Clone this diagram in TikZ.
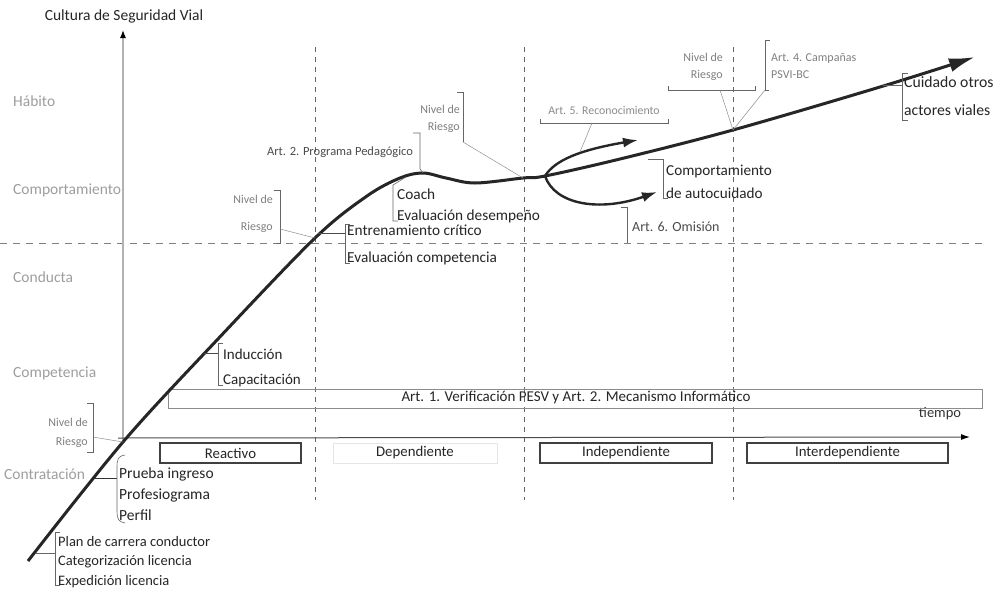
\documentclass[tikz,border=0pt]{standalone}
\usepackage{fontspec}
\setmainfont{Carlito}
\usetikzlibrary{arrows.meta}
\begin{document}
\begin{tikzpicture}[x=1pt,y=-1pt,
  every node/.style={inner sep=0pt},
  lbl/.style={text=black!85, anchor=west, align=left},
  axlbl/.style={font=\fontsize{15.5}{17}\selectfont, text=black!38, anchor=west},
  tiny/.style={text=black!50, align=right},
  brk/.style={draw=black!60, line width=0.6pt},
  lead/.style={draw=black!45, line width=0.5pt},
  phasebox/.style={draw=black!75, line width=1.5pt, minimum height=20pt, font=\fontsize{14.8}{16}\selectfont, text=black!85},
  vdash/.style={draw=black!60, line width=0.7pt, dash pattern=on 5pt off 5pt},
  hdash/.style={draw=black!50, line width=0.7pt, dash pattern=on 7pt off 6pt},
  mainline/.style={line width=3pt, draw=black!85},
]
\useasboundingbox (0,0) rectangle (995,592);
\fill[white] (0,0) rectangle (995,592);

% grid lines
\coordinate (hd1) at (0,243); \coordinate (hd2) at (985,243);
\draw[hdash] (hd1) -- (hd2);
\foreach \x/\n in {315/a,524/b,733/c}{
  \coordinate (vt\n) at (\x,47); \coordinate (vb\n) at (\x,500);
  \draw[vdash] (vt\n) -- (vb\n);
}

% axes
\coordinate (org) at (123,441);
\coordinate (ytop) at (123,30);
\coordinate (xstart) at (118,438);
\coordinate (xend) at (970,437);
\draw[black!30, line width=1.2pt, -{Latex[length=8pt,width=6pt,black]}] (org) -- (ytop);
\draw[black!70, line width=1pt, -{Latex[length=9pt,width=6pt,black]}] (xstart) -- (xend);
\node[font=\fontsize{15.5}{17}\selectfont, text=black!85] (ytitle) at (124,16) {Cultura de Seguridad Vial};
\node[font=\fontsize{14.5}{16}\selectfont, text=black!80] (tiempo) at (940,414) {tiempo};

% y-axis level labels
\node[axlbl] (habito) at (13,101) {Hábito};
\node[axlbl] (comp) at (13,190) {Comportamiento};
\node[axlbl] (conducta) at (13,277) {Conducta};
\node[axlbl] (competencia) at (13,373) {Competencia};
\node[axlbl] (contrat) at (4,474) {Contratación};

% Art. 1 band
\node[draw=black!45, line width=0.6pt, minimum width=814pt, minimum height=19pt] (art1box) at (575,398.5) {};
\node[font=\fontsize{15}{17}\selectfont, text=black!85] (art1) at (576,398) {Art. 1. Verificación PESV y Art. 2. Mecanismo Informático};

% phase boxes
\node[phasebox, minimum width=141pt] (reactivo) at (230.5,453) {Reactivo};
\node[phasebox, draw=black!10, line width=0.8pt, minimum width=164pt] (dependiente) at (415,453) {Dependiente};
\node[phasebox, minimum width=172pt] (independiente) at (626,453) {Independiente};
\node[phasebox, minimum width=201pt] (interdep) at (847.5,453) {Interdependiente};

% main curve
\coordinate (c0) at (28,561);
\coordinate (c1) at (123,442);
\coordinate (c2) at (217,340);
\coordinate (c3) at (315,238);
\coordinate (c4) at (367,196);
\coordinate (c5) at (400,178);
\coordinate (c6) at (423,173);
\coordinate (c7) at (446,178);
\coordinate (c8) at (475,183);
\coordinate (c9) at (523,178);
\coordinate (br) at (545,176);
\coordinate (c11) at (620,159);
\coordinate (c12) at (733,130);
\coordinate (c13) at (880,87);
\coordinate (tip) at (975,57);
\draw[mainline, -{Latex[length=26pt,width=14pt]}] plot[smooth, tension=0.55] coordinates {(c0) (c1) (c2) (c3) (c4) (c5) (c6) (c7) (c8) (c9) (br) (c11) (c12) (c13) (tip)};

% branches
\coordinate (uptip) at (638,140);
\coordinate (lowtip) at (657,192);
\draw[line width=2.4pt, black!85, -{Latex[length=15pt,width=10pt]}] (br) .. controls (555,160) and (580,150) .. (uptip);
\draw[line width=2.4pt, black!85, -{Latex[length=15pt,width=10pt]}] (br) .. controls (555,205) and (600,212) .. (lowtip);

% Nivel de Riesgo (bottom left)
\node[tiny, font=\fontsize{12}{19}\selectfont, anchor=east] (nr1) at (88,432.5) {Nivel de\\Riesgo};
\coordinate (nr1a) at (87,403); \coordinate (nr1b) at (93,403); \coordinate (nr1c) at (93,452); \coordinate (nr1d) at (87,452);
\draw[brk] (nr1a) -- (nr1b) -- (nr1c) -- (nr1d);
\coordinate (nr1l) at (93,437);
\draw[lead] (nr1l) -- (c1);

% Contratacion / Prueba ingreso
\coordinate (ct1) at (94,478); \coordinate (ct2) at (117,478);
\draw[black!80, line width=0.8pt] (ct1) -- (ct2);
\draw[brk] (125,455) .. controls (118,456) and (117,460) .. (117,466) -- (117,512) .. controls (117,519) and (119,522) .. (125,523);
\node[lbl, font=\fontsize{15.5}{21}\selectfont] (prueba) at (119,494) {Prueba ingreso\\Profesiograma\\Perfil};

% Plan de carrera
\coordinate (pc1) at (36,553); \coordinate (pc2) at (55,553);
\draw[brk] (pc1) -- (pc2);
\draw[brk] (60,532) -- (55,532) -- (55,585) -- (60,585);
\node[lbl, font=\fontsize{14.5}{19.5}\selectfont] (plan) at (58,562) {Plan de carrera conductor\\Categorización licencia\\Expedición licencia};

% Induccion
\coordinate (in1) at (204,353); \coordinate (in2) at (218,353);
\draw[black!70, line width=0.7pt] (in1) -- (in2);
\draw[brk] (223,343) -- (218,343) -- (218,385) -- (223,385);
\node[lbl, font=\fontsize{15}{25}\selectfont] (induccion) at (223,367.5) {Inducción\\Capacitación};

% Nivel de Riesgo (second)
\node[tiny, font=\fontsize{12}{27}\selectfont, anchor=east] (nr2) at (273,213.5) {Nivel de\\Riesgo};
\draw[brk] (274,190) -- (280,190) -- (280,243) -- (276,243);
\coordinate (nr2l) at (280,229);
\draw[lead] (nr2l) -- (c3);

% Entrenamiento
\coordinate (en1) at (318,233); \coordinate (en2) at (345,233);
\draw[black!70, line width=0.7pt] (en1) -- (en2);
\draw[brk] (350,224) -- (345,224) -- (345,263) -- (350,263);
\node[lbl, font=\fontsize{15.3}{27}\selectfont] (entren) at (347,245) {Entrenamiento crítico\\Evaluación competencia};

% Coach
\coordinate (co1) at (406,177);
\draw[brk] (co1) -- (393,185) -- (393,221) -- (398,221);
\node[lbl, font=\fontsize{15.3}{21}\selectfont] (coach) at (397,205.5) {Coach\\Evaluación desempeño};

% Art. 2 Programa Pedagogico
\node[font=\fontsize{12.5}{14}\selectfont, text=black!70] (art2) at (340,152) {Art. 2. Programa Pedagógico};
\draw[brk] (413,133) -- (420,133) -- (420,169) -- (c6);

% Nivel de Riesgo (third)
\node[tiny, font=\fontsize{12}{17}\selectfont, anchor=east] (nr3) at (460,118.5) {Nivel de\\Riesgo};
\coordinate (nr3b) at (463,142);
\draw[brk] (457,92) -- (463,92) -- (nr3b);
\draw[lead] (nr3b) -- (c9);

% Art. 5 Reconocimiento
\node[font=\fontsize{11.8}{13}\selectfont, text=black!45] (art5) at (604,110) {Art. 5. Reconocimiento};
\coordinate (a5m) at (592,123); \coordinate (a5c) at (580,152);
\draw[brk] (540,119) -- (540,123) -- (668,123) -- (668,119);
\draw[lead] (a5m) -- (a5c);

% Comportamiento de autocuidado
\coordinate (au1) at (648,159); \coordinate (au2) at (663,159);
\draw[brk] (au1) -- (au2) -- (663,198) -- (668,198);
\node[lbl, font=\fontsize{15.2}{23}\selectfont] (autoc) at (666,181.5) {Comportamiento\\de autocuidado};

% Art. 6 Omision
\coordinate (om1) at (621,207);
\draw[brk] (om1) -- (627,207) -- (627,243);
\node[lbl, font=\fontsize{14}{15}\selectfont, text=black!70] (omision) at (632,227) {Art. 6. Omisión};

% Nivel de Riesgo (top right) and Art. 4
\node[tiny, font=\fontsize{12}{17}\selectfont, anchor=east] (nr4) at (723,66.5) {Nivel de\\Riesgo};
\coordinate (nr4l) at (720,90);
\draw[brk] (668,86) -- (668,90) -- (755,90) -- (755,86);
\draw[lead] (nr4l) -- (c12);
\coordinate (a4b) at (765,90);
\draw[brk] (770,40) -- (765,40) -- (a4b) -- (769,90);
\draw[lead] (a4b) -- (c12);
\node[tiny, font=\fontsize{12}{17}\selectfont, anchor=west, align=left] (art4) at (771,66.5) {Art. 4. Campañas\\PSVI-BC};

% Cuidado otros actores viales
\coordinate (cu1) at (883,85); \coordinate (cu2) at (902,85);
\draw[brk] (cu1) -- (cu2);
\draw[brk] (908,73) -- (902,73) -- (902,120) -- (908,120);
\node[lbl, font=\fontsize{15.7}{28}\selectfont] (cuidado) at (904,96) {Cuidado otros\\actores viales};
\end{tikzpicture}
\end{document}
